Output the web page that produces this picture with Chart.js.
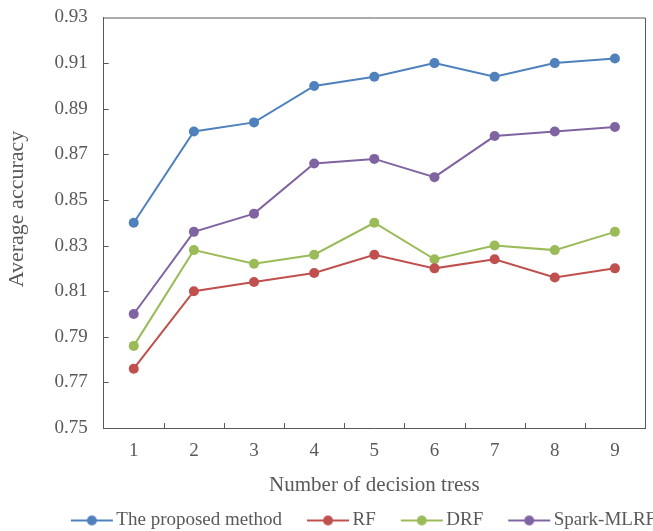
<!DOCTYPE html>
<html>
<head>
<meta charset="utf-8">
<script src="https://cdn.jsdelivr.net/npm/chart.js@4/dist/chart.umd.min.js"></script>
<style>
  body { margin: 0; background: #fff; }
  canvas { display: block; }
</style>
</head>
<body>
<canvas id="accuracyChart" width="653" height="531"></canvas>
<script>
// chart data
const treeCounts = ['1', '2', '3', '4', '5', '6', '7', '8', '9'];
const proposedAcc = [0.840, 0.880, 0.884, 0.900, 0.904, 0.910, 0.904, 0.910, 0.912];
const rfAcc = [0.776, 0.810, 0.814, 0.818, 0.826, 0.820, 0.824, 0.816, 0.820];
const drfAcc = [0.786, 0.828, 0.822, 0.826, 0.840, 0.824, 0.830, 0.828, 0.836];
const sparkAcc = [0.800, 0.836, 0.844, 0.866, 0.868, 0.860, 0.878, 0.880, 0.882];

const axisColor = '#595959';
const fontFamily = '"Liberation Serif", "Times New Roman", serif';

// legend marker: blank gap, then a short line with a dot in the middle
function legendMarker(color) {
    const c = document.createElement('canvas');
    c.width = 90;
    c.height = 12;
    const ctx = c.getContext('2d');
    ctx.strokeStyle = color;
    ctx.lineWidth = 2;
    ctx.beginPath();
    ctx.moveTo(38, 6);
    ctx.lineTo(80, 6);
    ctx.stroke();
    ctx.fillStyle = color;
    ctx.beginPath();
    ctx.arc(59, 6, 5, 0, Math.PI * 2);
    ctx.fill();
    return c;
}

function makeDataset(label, data, color) {
    return {
        label: label,
        data: data,
        borderColor: color,
        backgroundColor: color,
        borderWidth: 2,
        pointRadius: 5,
        pointHoverRadius: 5,
        pointBorderWidth: 0,
        tension: 0,
        marker: legendMarker(color)
    };
}

// frame around the plot and inward tick marks
const framePlugin = {
    id: 'frame',
    afterLayout(chart) {
        // the legend in the original sits a bit right of centre
        chart.legend.left += 28;
        chart.legend.right += 28;
    },
    afterDraw(chart) {
        const ctx = chart.ctx;
        const area = chart.chartArea;
        const x = chart.scales.x;
        const y = chart.scales.y;
        ctx.save();
        ctx.strokeStyle = axisColor;
        ctx.lineWidth = 1;
        ctx.beginPath();
        ctx.moveTo(area.left, area.top + 0.5);
        ctx.lineTo(area.right + 0.5, area.top + 0.5);
        ctx.lineTo(area.right + 0.5, area.bottom);
        // x ticks between categories
        for (let i = 0; i < treeCounts.length - 1; i++) {
            const px = Math.round((x.getPixelForValue(i) + x.getPixelForValue(i + 1)) / 2) + 0.5;
            ctx.moveTo(px, area.bottom);
            ctx.lineTo(px, area.bottom - 5);
        }
        // y ticks
        y.ticks.forEach(t => {
            if (t.value <= y.min + 1e-9 || t.value >= y.max - 1e-9) return;
            const py = Math.round(y.getPixelForValue(t.value)) + 0.5;
            ctx.moveTo(area.left, py);
            ctx.lineTo(area.left + 5, py);
        });
        ctx.stroke();
        ctx.restore();
    }
};

const ctx = document.getElementById('accuracyChart').getContext('2d');
new Chart(ctx, {
    type: 'line',
    data: {
        labels: treeCounts,
        datasets: [
            makeDataset('The proposed method', proposedAcc, '#4F81BD'),
            makeDataset('RF', rfAcc, '#C0504D'),
            makeDataset('DRF', drfAcc, '#9BBB59'),
            makeDataset('Spark-MLRF', sparkAcc, '#8064A2')
        ]
    },
    options: {
        responsive: false,
        animation: false,
        layout: { padding: { top: -4, right: 8, left: 4, bottom: -9 } },
        plugins: {
            tooltip: { enabled: false },
            legend: {
                position: 'bottom',
                labels: {
                    usePointStyle: true,
                    pointStyleWidth: 58,
                    color: axisColor,
                    padding: 3,
                    font: { family: fontFamily, size: 19 },
                    generateLabels(chart) {
                        return chart.data.datasets.map((ds, i) => ({
                            text: ds.label,
                            pointStyle: ds.marker,
                            fillStyle: ds.borderColor,
                            strokeStyle: ds.borderColor,
                            lineWidth: 0,
                            fontColor: axisColor,
                            hidden: false,
                            datasetIndex: i
                        }));
                    }
                }
            }
        },
        scales: {
            x: {
                offset: true,
                grid: { display: false },
                border: { display: true, color: axisColor, width: 1 },
                ticks: { color: axisColor, padding: 4, font: { family: fontFamily, size: 19 } },
                title: {
                    display: true,
                    text: 'Number of decision tress',
                    color: axisColor,
                    padding: { top: 6, bottom: 10 },
                    font: { family: fontFamily, size: 21 }
                }
            },
            y: {
                min: 0.75,
                max: 0.93,
                grid: { display: false },
                border: { display: true, color: axisColor, width: 1 },
                ticks: {
                    stepSize: 0.02,
                    color: axisColor,
                    padding: 8,
                    font: { family: fontFamily, size: 19, lineHeight: 1 },
                    callback: v => v.toFixed(2)
                },
                title: {
                    display: true,
                    text: '     Average accuracy',
                    color: axisColor,
                    padding: { top: 0, bottom: 16 },
                    font: { family: fontFamily, size: 22 }
                }
            }
        }
    },
    plugins: [framePlugin]
});
</script>
</body>
</html>
